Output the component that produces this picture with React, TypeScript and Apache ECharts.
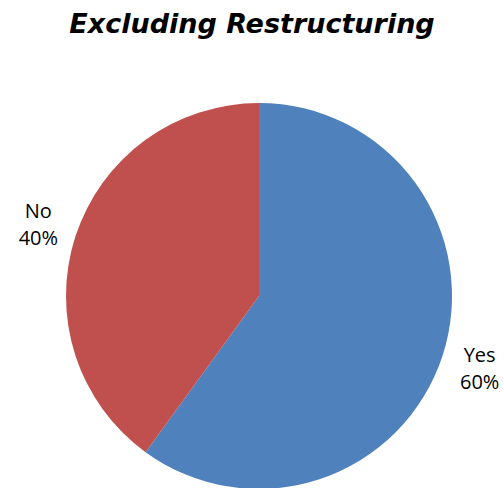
import React, { useEffect, useRef } from "react";
import * as echarts from "echarts";

const titleText = "Excluding Restructuring";
const categories = ["Yes", "No"];
const values = [60, 40];
const colors = ["#4F81BD", "#C0504D"];

export default function App() {
  const ref = useRef<HTMLDivElement>(null);
  useEffect(() => {
    if (!ref.current) return;
    const chart = echarts.init(ref.current, null, { renderer: "svg" });
    chart.setOption({
      animation: false,
      backgroundColor: "#ffffff",
      title: {
        text: titleText,
        left: "center",
        top: 5,
        textStyle: {
          fontFamily: "DejaVu Sans",
          fontWeight: "bold",
          fontStyle: "italic",
          fontSize: 27,
          color: "#000000",
        },
      },
      series: [
        {
          type: "pie",
          center: [259, 296],
          radius: 193,
          startAngle: 90,
          clockwise: true,
          avoidLabelOverlap: false,
          data: categories.map((c, i) => ({
            name: c,
            value: values[i],
            itemStyle: { color: colors[i] },
          })),
          label: {
            show: true,
            position: "outside",
            formatter: "{b}\n{d}%",
            fontFamily: "Open Sans",
            fontSize: 20,
            lineHeight: 27,
            color: "#000000",
          },
          labelLine: {
            show: true,
            length: 20,
            length2: 0,
            lineStyle: { opacity: 0, width: 0 },
          },
          labelLayout: (params: any) => {
            const pts = params.labelLinePoints;
            if (!pts || pts.length < 2) return {};
            const p0 = pts[0];
            const p1 = pts[1];
            const dx = p1[0] - p0[0];
            const dy = p1[1] - p0[1];
            const len = Math.hypot(dx, dy) || 1;
            const k = 39;
            return {
              x: p0[0] + (dx / len) * k,
              y: p0[1] + (dy / len) * k,
              align: "center",
              verticalAlign: "middle",
            };
          },
          emphasis: { disabled: true },
        },
      ],
    });
    return () => chart.dispose();
  }, []);
  return (
    <div
      ref={ref}
      style={{ position: "fixed", left: 0, top: 0, width: 504, height: 488 }}
    />
  );
}
